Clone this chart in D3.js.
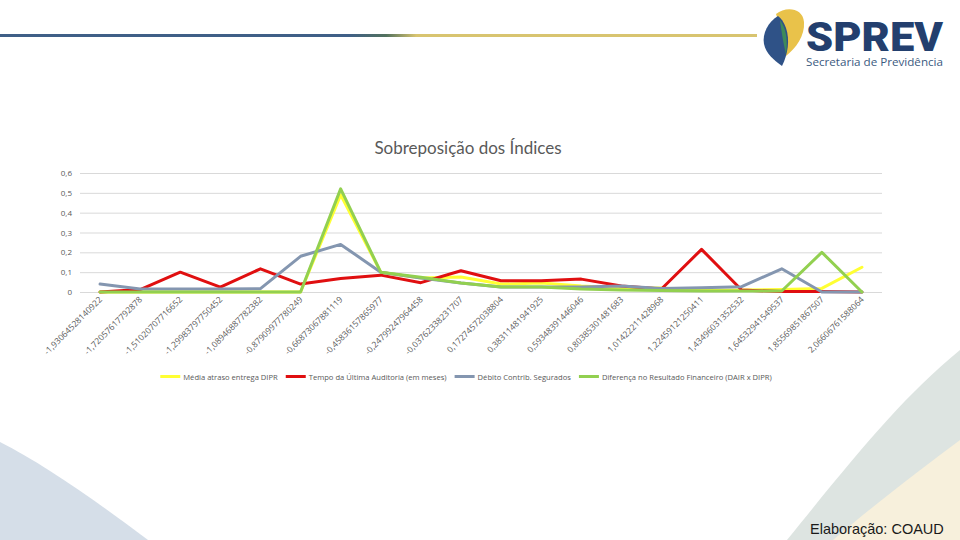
<!DOCTYPE html>
<html><head><meta charset="utf-8">
<script src="https://cdn.jsdelivr.net/npm/d3@7"></script>
<style>
html,body{margin:0;padding:0;background:#fff;}
svg{display:block;}
</style></head>
<body>
<svg id="chart" width="960" height="540"></svg>
<script>
// ---------- DATA ----------
const categories = [
  "-1,93064528140922","-1,72057617792878","-1,51020707716652","-1,29983797750452",
  "-1,08946887782382","-0,87909977780249","-0,66873067881119","-0,45836157865977",
  "-0,24799247964458","-0,03762338231707","0,17274572038804","0,38311481941925",
  "0,59348391446046","0,80385301481683","1,01422211428968","1,22459121250411",
  "1,43496031352532","1,64532941549537","1,85569851867507","2,06606761588064"
];
const mediaAtraso        = [0,0,0,0,0,0,0.49,0.10,0.07,0.076,0.04,0.045,0.03,0.02,0.02,0.008,0.01,0.012,0.018,0.125];
const tempoAuditoria     = [0,0.012,0.10,0.025,0.117,0.04,0.068,0.085,0.047,0.107,0.057,0.057,0.065,0.03,0.015,0.215,0.01,0.002,0.002,0];
const debitoContrib      = [0.04,0.015,0.015,0.015,0.017,0.18,0.24,0.10,0.07,0.045,0.025,0.025,0.025,0.03,0.018,0.022,0.027,0.117,0,0];
const diferencaResultado = [0,0,0,0,0,0,0.52,0.10,0.074,0.045,0.025,0.025,0.015,0.01,0.008,0.005,0.005,0.005,0.2,0];
const seriesNames = ["Média atraso entrega DIPR","Tempo da Última Auditoria (em meses)","Débito Contrib. Segurados","Diferença no Resultado Financeiro (DAIR x DIPR)"];
const seriesColors = ["#FFFF33","#E00F10","#8496B0","#92D050"];
const yTicks = [0,0.1,0.2,0.3,0.4,0.5,0.6];
const chartTitle = "Sobreposição dos Índices";

(function(){
// ---------- SETUP ----------
const svg = d3.select("#chart");
const locale = d3.formatLocale({decimal:",", thousands:".", grouping:[3], currency:["R$",""]});
const fmt = v => v === 0 ? "0" : locale.format(".1f")(v);

// background watermark shapes
svg.append("path").attr("d","M0,442 C40,462 95,500 148,540 L0,540 Z").attr("fill","#D5DEE8");
svg.append("path").attr("d","M960,350 C900,400 860,450 787,540 L960,540 Z").attr("fill","#DDE4E1");
svg.append("path").attr("d","M960,440 C920,470 880,500 833,540 L960,540 Z").attr("fill","#F7F0DC");

// header line with gradient
const defs = svg.append("defs");
const grad = defs.append("linearGradient").attr("id","hdr").attr("x1","0").attr("x2","1").attr("y1","0").attr("y2","0");
grad.append("stop").attr("offset","0%").attr("stop-color","#3F5F87");
grad.append("stop").attr("offset","46%").attr("stop-color","#3F5F87");
grad.append("stop").attr("offset","51%").attr("stop-color","#52715E");
grad.append("stop").attr("offset","55%").attr("stop-color","#D8C470");
grad.append("stop").attr("offset","100%").attr("stop-color","#D8C470");
svg.append("rect").attr("x",0).attr("y",34).attr("width",757).attr("height",3).attr("fill","url(#hdr)");

// logo icon
const logo = svg.append("g");
logo.append("path").attr("d","M776,14 C786,6 803,8 804,22 C805,36 796,48 786,56 C784,40 780,26 776,14 Z").attr("fill","#E9C24A");
logo.append("path").attr("d","M778,16 C768,22 762,34 764,44 C766,54 774,60 782,66 C788,54 790,40 786,28 C784,22 781,18 778,16 Z").attr("fill","#2F5287");
logo.append("path").attr("d","M780,20 C786,28 788,40 786,54 C784,46 782,36 780,20 Z").attr("fill","#3E8A5A");
svg.append("text").attr("x",806).attr("y",51).attr("font-family","Roboto").attr("font-weight",900)
  .attr("font-size",41).attr("fill","#233F6E").attr("textLength",137).attr("lengthAdjust","spacingAndGlyphs").text("SPREV");
svg.append("text").attr("x",806).attr("y",66).attr("font-family","Open Sans").attr("font-size",11)
  .attr("fill","#3B5A80").attr("textLength",137).attr("lengthAdjust","spacingAndGlyphs").text("Secretaria de Previdência");

// ---------- CHART ----------
const pLeft = 80, pRight = 882, pTop = 173, pBottom = 292;
const x = d3.scalePoint().domain(categories).range([pLeft, pRight]).padding(0.5);
const y = d3.scaleLinear().domain([0, 0.6]).range([pBottom, pTop]);

svg.append("text").attr("x",468).attr("y",154).attr("text-anchor","middle")
  .attr("font-family","Lato").attr("font-size",17).attr("fill","#595959").text(chartTitle);

// gridlines
svg.append("g").selectAll("line").data(yTicks).join("line")
  .attr("x1",pLeft).attr("x2",pRight).attr("y1",d=>y(d)+0.5).attr("y2",d=>y(d)+0.5)
  .attr("stroke","#D9D9D9").attr("stroke-width",1);

// y axis labels
const yAxis = d3.axisLeft(y).tickValues(yTicks).tickFormat(fmt).tickSize(0).tickPadding(8);
const yg = svg.append("g").attr("transform",`translate(${pLeft},0)`).call(yAxis);
yg.select(".domain").remove();
yg.selectAll("text").attr("font-family","Open Sans").attr("font-size",8).attr("fill","#595959");

// x axis labels
const xAxis = d3.axisBottom(x).tickSize(0).tickPadding(0);
const xg = svg.append("g").attr("transform",`translate(0,${pBottom+6})`).call(xAxis);
xg.select(".domain").remove();
xg.selectAll(".tick text")
  .attr("font-family","Open Sans").attr("font-size",8.5).attr("fill","#595959")
  .attr("text-anchor","end").attr("y",0).attr("dy","0.35em").attr("dx","0")
  .attr("transform","rotate(-45)");

// lines
const allSeries = [mediaAtraso, tempoAuditoria, debitoContrib, diferencaResultado];
const line = d3.line().x((d,i)=>x(categories[i])).y(d=>y(d));
svg.append("g").selectAll("path").data(allSeries).join("path")
  .attr("d", d=>line(d)).attr("fill","none")
  .attr("stroke",(d,i)=>seriesColors[i]).attr("stroke-width",3)
  .attr("stroke-linejoin","round").attr("stroke-linecap","round");

// legend
const lg = svg.append("g");
let lx = 0;
seriesNames.forEach((n,i)=>{
  const g = lg.append("g").attr("transform",`translate(${lx},0)`);
  g.append("rect").attr("x",0).attr("y",-2).attr("width",20).attr("height",3).attr("fill",seriesColors[i]);
  const t = g.append("text").attr("x",23).attr("y",3).attr("font-family","Open Sans").attr("font-size",7.6)
    .attr("fill","#595959").text(n);
  lx += 23 + t.node().getComputedTextLength() + 8;
});
const totalW = lx - 8;
lg.attr("transform",`translate(${466 - totalW/2},377)`);

// footer
svg.append("text").attr("x",810).attr("y",534).attr("font-family","Liberation Sans").attr("font-size",14.5)
  .attr("fill","#1a1a1a").text("Elaboração: COAUD");
})();
</script>
</body></html>
